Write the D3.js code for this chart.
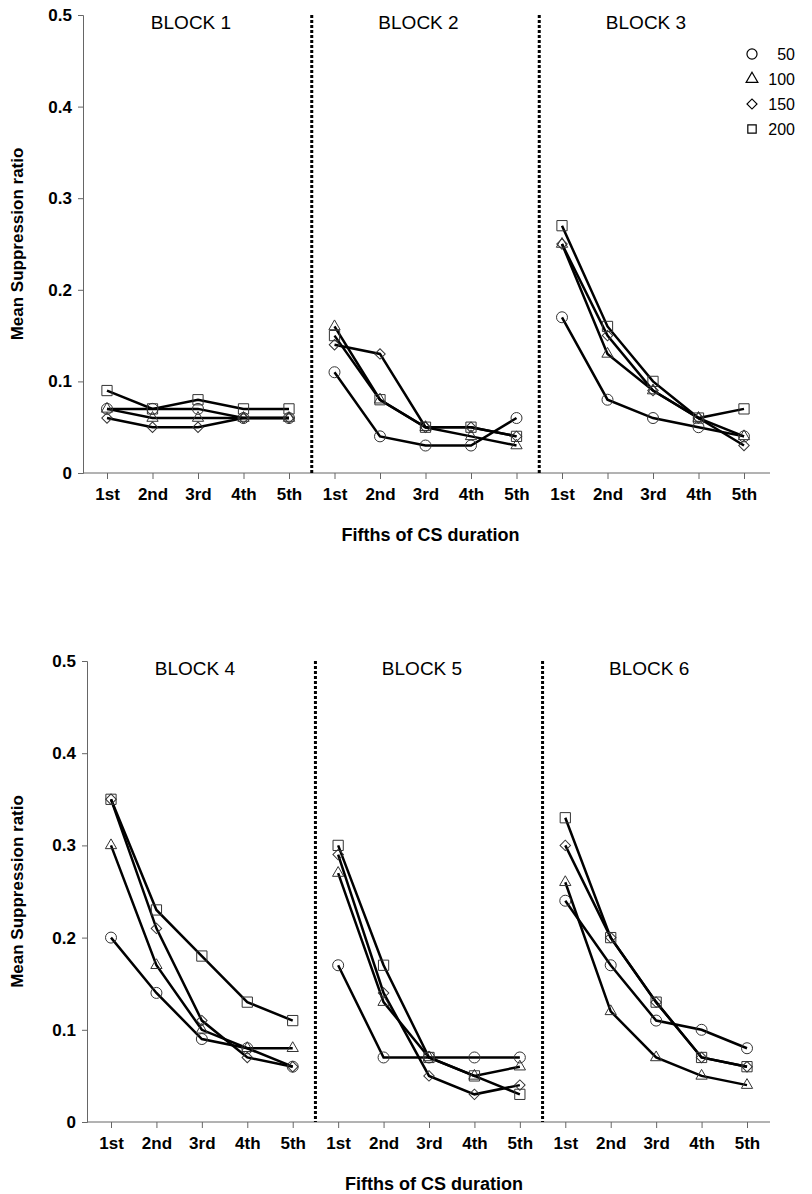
<!DOCTYPE html>
<html lang="en">
<head>
<meta charset="UTF-8">
<title>Mean Suppression ratio by block</title>
<script src="https://d3js.org/d3.v7.min.js"></script>
<style>
    body { margin: 0; background: #fff; }
    svg { display: block; font-family: "Liberation Sans", Arial, Helvetica, sans-serif; }
    .tick text { font-weight: bold; }
</style>
</head>
<body>
<div id="chart"></div>
<script>
    const width = 812, height = 1194;

    // data
    const fifths = ["1st", "2nd", "3rd", "4th", "5th"];
    const blockNames = ["BLOCK 1", "BLOCK 2", "BLOCK 3", "BLOCK 4", "BLOCK 5", "BLOCK 6"];
    const doses = ["50", "100", "150", "200"];
    const yTicks = [0, 0.1, 0.2, 0.3, 0.4, 0.5];

    // rows follow doses: 50, 100, 150, 200
    const block1 = [
        [0.07, 0.07, 0.07, 0.06, 0.06],
        [0.07, 0.06, 0.06, 0.06, 0.06],
        [0.06, 0.05, 0.05, 0.06, 0.06],
        [0.09, 0.07, 0.08, 0.07, 0.07]
    ];
    const block2 = [
        [0.11, 0.04, 0.03, 0.03, 0.06],
        [0.16, 0.08, 0.05, 0.04, 0.03],
        [0.14, 0.13, 0.05, 0.05, 0.04],
        [0.15, 0.08, 0.05, 0.05, 0.04]
    ];
    const block3 = [
        [0.17, 0.08, 0.06, 0.05, 0.04],
        [0.25, 0.13, 0.09, 0.06, 0.04],
        [0.25, 0.15, 0.09, 0.06, 0.03],
        [0.27, 0.16, 0.10, 0.06, 0.07]
    ];
    const block4 = [
        [0.20, 0.14, 0.09, 0.08, 0.06],
        [0.30, 0.17, 0.10, 0.08, 0.08],
        [0.35, 0.21, 0.11, 0.07, 0.06],
        [0.35, 0.23, 0.18, 0.13, 0.11]
    ];
    const block5 = [
        [0.17, 0.07, 0.07, 0.07, 0.07],
        [0.27, 0.13, 0.07, 0.05, 0.06],
        [0.29, 0.14, 0.05, 0.03, 0.04],
        [0.30, 0.17, 0.07, 0.05, 0.03]
    ];
    const block6 = [
        [0.24, 0.17, 0.11, 0.10, 0.08],
        [0.26, 0.12, 0.07, 0.05, 0.04],
        [0.30, 0.20, 0.13, 0.07, 0.06],
        [0.33, 0.20, 0.13, 0.07, 0.06]
    ];
    const allBlocks = [block1, block2, block3, block4, block5, block6];

    const symbolTypes = [d3.symbolCircle, d3.symbolTriangle, d3.symbolSquare, d3.symbolSquare];
    const symbolSizes = [95, 55, 55, 105];
    const symbolRotate = [0, 0, 45, 0];

    const svg = d3.select("#chart").append("svg")
        .attr("width", width)
        .attr("height", height);

    const panels = [
        { blocks: [0, 1, 2], yAxisX: 83, xEnd: 770, xFrom: 107, xTo: 744, yBottom: 473, yTop: 15 },
        { blocks: [3, 4, 5], yAxisX: 87, xEnd: 770, xFrom: 111, xTo: 747, yBottom: 1122, yTop: 661 }
    ];

    panels.forEach(p => drawPanel(p));

    function drawPanel(p) {
        const g = svg.append("g");
        const keys = [];
        p.blocks.forEach(b => fifths.forEach(f => keys.push(b + "|" + f)));

        const x = d3.scalePoint().domain(keys).range([p.xFrom, p.xTo]);
        const y = d3.scaleLinear().domain([0, 0.5]).range([p.yBottom, p.yTop]);

        // y axis
        const yAxis = d3.axisLeft(y)
            .tickValues(yTicks)
            .tickSize(5)
            .tickPadding(6)
            .tickFormat(d => d === 0 ? "0" : d3.format(".1f")(d));
        const yg = g.append("g")
            .attr("transform", `translate(${p.yAxisX},0)`)
            .call(yAxis);
        yg.select(".domain").attr("stroke", "#666");
        yg.selectAll(".tick line").attr("stroke", "#666");
        yg.selectAll(".tick text")
            .attr("font-size", 17)
            .attr("fill", "#000");

        // x axis
        const xAxis = d3.axisBottom(x)
            .tickSize(6)
            .tickPadding(9)
            .tickFormat(d => d.split("|")[1]);
        const xg = g.append("g")
            .attr("transform", `translate(0,${p.yBottom})`)
            .call(xAxis);
        xg.select(".domain").remove();
        xg.selectAll(".tick line").attr("stroke", "#666");
        xg.selectAll(".tick text")
            .attr("font-size", 17)
            .attr("fill", "#000");
        g.append("line")
            .attr("x1", p.yAxisX).attr("x2", p.xEnd)
            .attr("y1", p.yBottom).attr("y2", p.yBottom)
            .attr("stroke", "#666");

        // dotted dividers between blocks
        const step = x.step();
        p.blocks.slice(1).forEach(b => {
            const xd = x(b + "|1st") - step / 2;
            g.append("line")
                .attr("x1", xd).attr("x2", xd)
                .attr("y1", y(0.5)).attr("y2", y(0))
                .attr("stroke", "#000")
                .attr("stroke-width", 3)
                .attr("stroke-dasharray", "3,2");
        });

        // block titles
        p.blocks.forEach(b => {
            g.append("text")
                .attr("x", x(b + "|3rd") - 7)
                .attr("y", y(0.5) + 14)
                .attr("text-anchor", "middle")
                .attr("font-size", 19)
                .text(blockNames[b]);
        });

        // series lines and markers
        const line = d3.line()
            .x(d => x(d.key))
            .y(d => y(d.v));

        p.blocks.forEach(b => {
            allBlocks[b].forEach((vals, s) => {
                const pts = vals.map((v, i) => ({ key: b + "|" + fifths[i], v: v }));
                g.append("path")
                    .datum(pts)
                    .attr("fill", "none")
                    .attr("stroke", "#000")
                    .attr("stroke-width", 2.5)
                    .attr("d", line);
            });
        });
        p.blocks.forEach(b => {
            allBlocks[b].forEach((vals, s) => {
                const sym = d3.symbol().type(symbolTypes[s]).size(symbolSizes[s]);
                g.selectAll(null)
                    .data(vals)
                    .join("path")
                    .attr("d", sym)
                    .attr("transform", (v, i) =>
                        `translate(${x(b + "|" + fifths[i])},${y(v)}) rotate(${symbolRotate[s]})`)
                    .attr("fill", "none")
                    .attr("stroke", "#333")
                    .attr("stroke-width", 1);
            });
        });

        // axis titles
        g.append("text")
            .attr("transform", `translate(23,${(p.yTop + p.yBottom) / 2}) rotate(-90)`)
            .attr("text-anchor", "middle")
            .attr("font-size", 17)
            .attr("font-weight", "bold")
            .text("Mean Suppression ratio");

        g.append("text")
            .attr("x", x(p.blocks[1] + "|3rd") + 5)
            .attr("y", p.yBottom + 68)
            .attr("text-anchor", "middle")
            .attr("font-size", 18)
            .attr("font-weight", "bold")
            .text("Fifths of CS duration");
    }

    // legend (top right)
    const legend = svg.append("g");
    doses.forEach((d, i) => {
        const ly = 54 + i * 25;
        legend.append("path")
            .attr("d", d3.symbol().type(symbolTypes[i]).size([80, 60, 50, 70][i]))
            .attr("transform", `translate(752,${ly}) rotate(${symbolRotate[i]})`)
            .attr("fill", "none")
            .attr("stroke", "#000")
            .attr("stroke-width", 1.2);
        legend.append("text")
            .attr("x", 795)
            .attr("y", ly + 6)
            .attr("text-anchor", "end")
            .attr("font-size", 16)
            .text(d);
    });
</script>
</body>
</html>
